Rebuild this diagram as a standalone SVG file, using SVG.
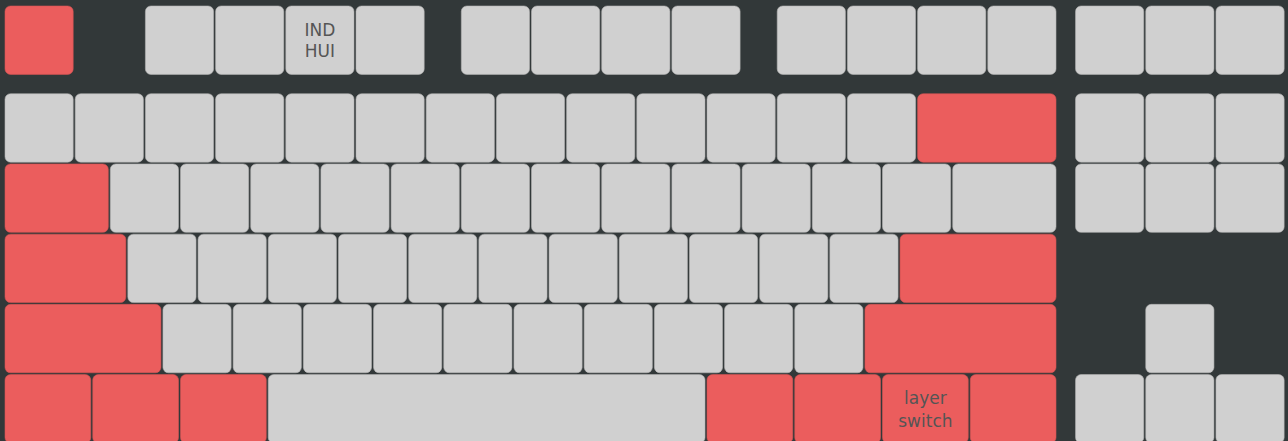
<svg xmlns="http://www.w3.org/2000/svg" width="1288" height="441" viewBox="0 0 1288 441">
<style>
.k{fill:#d0d0d0;stroke:#b4b4b4;stroke-width:0.6}
.r{fill:#eb5d5d;stroke:#d45454;stroke-width:0.6}
.t{font-family:"DejaVu Sans","Liberation Sans",sans-serif;font-size:17px;fill:#555555;text-anchor:middle}
</style>
<rect width="1288" height="441" fill="#323839"/>
<!-- Row 1 -->
<g id="key-esc"><rect class="r" x="5" y="6" width="68.2" height="68.4" rx="5.5"/></g>
<g id="key-f1"><rect class="k" x="145.4" y="6" width="68.2" height="68.4" rx="5.5"/></g>
<g id="key-f2"><rect class="k" x="215.6" y="6" width="68.2" height="68.4" rx="5.5"/></g>
<g id="key-f3"><rect class="k" x="285.8" y="6" width="68.2" height="68.4" rx="5.5"/><text class="t" x="319.9" y="36.3">IND</text><text class="t" x="319.9" y="57">HUI</text></g>
<g id="key-f4"><rect class="k" x="356" y="6" width="68.2" height="68.4" rx="5.5"/></g>
<g id="key-f5"><rect class="k" x="461.3" y="6" width="68.2" height="68.4" rx="5.5"/></g>
<g id="key-f6"><rect class="k" x="531.5" y="6" width="68.2" height="68.4" rx="5.5"/></g>
<g id="key-f7"><rect class="k" x="601.7" y="6" width="68.2" height="68.4" rx="5.5"/></g>
<g id="key-f8"><rect class="k" x="671.9" y="6" width="68.2" height="68.4" rx="5.5"/></g>
<g id="key-f9"><rect class="k" x="777.2" y="6" width="68.2" height="68.4" rx="5.5"/></g>
<g id="key-f10"><rect class="k" x="847.4" y="6" width="68.2" height="68.4" rx="5.5"/></g>
<g id="key-f11"><rect class="k" x="917.6" y="6" width="68.2" height="68.4" rx="5.5"/></g>
<g id="key-f12"><rect class="k" x="987.8" y="6" width="68.2" height="68.4" rx="5.5"/></g>
<g id="key-prtsc"><rect class="k" x="1075.55" y="6" width="68.2" height="68.4" rx="5.5"/></g>
<g id="key-scrlk"><rect class="k" x="1145.75" y="6" width="68.2" height="68.4" rx="5.5"/></g>
<g id="key-pause"><rect class="k" x="1215.95" y="6" width="68.2" height="68.4" rx="5.5"/></g>
<!-- Row 2 -->
<g id="key-grave"><rect class="k" x="5" y="93.75" width="68.2" height="68.4" rx="5.5"/></g>
<g id="key-1"><rect class="k" x="75.2" y="93.75" width="68.2" height="68.4" rx="5.5"/></g>
<g id="key-2"><rect class="k" x="145.4" y="93.75" width="68.2" height="68.4" rx="5.5"/></g>
<g id="key-3"><rect class="k" x="215.6" y="93.75" width="68.2" height="68.4" rx="5.5"/></g>
<g id="key-4"><rect class="k" x="285.8" y="93.75" width="68.2" height="68.4" rx="5.5"/></g>
<g id="key-5"><rect class="k" x="356" y="93.75" width="68.2" height="68.4" rx="5.5"/></g>
<g id="key-6"><rect class="k" x="426.2" y="93.75" width="68.2" height="68.4" rx="5.5"/></g>
<g id="key-7"><rect class="k" x="496.4" y="93.75" width="68.2" height="68.4" rx="5.5"/></g>
<g id="key-8"><rect class="k" x="566.6" y="93.75" width="68.2" height="68.4" rx="5.5"/></g>
<g id="key-9"><rect class="k" x="636.8" y="93.75" width="68.2" height="68.4" rx="5.5"/></g>
<g id="key-0"><rect class="k" x="707" y="93.75" width="68.2" height="68.4" rx="5.5"/></g>
<g id="key-minus"><rect class="k" x="777.2" y="93.75" width="68.2" height="68.4" rx="5.5"/></g>
<g id="key-equal"><rect class="k" x="847.4" y="93.75" width="68.2" height="68.4" rx="5.5"/></g>
<g id="key-backspace"><rect class="r" x="917.6" y="93.75" width="138.4" height="68.4" rx="5.5"/></g>
<g id="key-insert"><rect class="k" x="1075.55" y="93.75" width="68.2" height="68.4" rx="5.5"/></g>
<g id="key-home"><rect class="k" x="1145.75" y="93.75" width="68.2" height="68.4" rx="5.5"/></g>
<g id="key-pgup"><rect class="k" x="1215.95" y="93.75" width="68.2" height="68.4" rx="5.5"/></g>
<!-- Row 3 -->
<g id="key-tab"><rect class="r" x="5" y="163.95" width="103.3" height="68.4" rx="5.5"/></g>
<g id="key-q"><rect class="k" x="110.3" y="163.95" width="68.2" height="68.4" rx="5.5"/></g>
<g id="key-w"><rect class="k" x="180.5" y="163.95" width="68.2" height="68.4" rx="5.5"/></g>
<g id="key-e"><rect class="k" x="250.7" y="163.95" width="68.2" height="68.4" rx="5.5"/></g>
<g id="key-r"><rect class="k" x="320.9" y="163.95" width="68.2" height="68.4" rx="5.5"/></g>
<g id="key-t"><rect class="k" x="391.1" y="163.95" width="68.2" height="68.4" rx="5.5"/></g>
<g id="key-y"><rect class="k" x="461.3" y="163.95" width="68.2" height="68.4" rx="5.5"/></g>
<g id="key-u"><rect class="k" x="531.5" y="163.95" width="68.2" height="68.4" rx="5.5"/></g>
<g id="key-i"><rect class="k" x="601.7" y="163.95" width="68.2" height="68.4" rx="5.5"/></g>
<g id="key-o"><rect class="k" x="671.9" y="163.95" width="68.2" height="68.4" rx="5.5"/></g>
<g id="key-p"><rect class="k" x="742.1" y="163.95" width="68.2" height="68.4" rx="5.5"/></g>
<g id="key-lbracket"><rect class="k" x="812.3" y="163.95" width="68.2" height="68.4" rx="5.5"/></g>
<g id="key-rbracket"><rect class="k" x="882.5" y="163.95" width="68.2" height="68.4" rx="5.5"/></g>
<g id="key-backslash"><rect class="k" x="952.7" y="163.95" width="103.3" height="68.4" rx="5.5"/></g>
<g id="key-delete"><rect class="k" x="1075.55" y="163.95" width="68.2" height="68.4" rx="5.5"/></g>
<g id="key-end"><rect class="k" x="1145.75" y="163.95" width="68.2" height="68.4" rx="5.5"/></g>
<g id="key-pgdn"><rect class="k" x="1215.95" y="163.95" width="68.2" height="68.4" rx="5.5"/></g>
<!-- Row 4 -->
<g id="key-caps"><rect class="r" x="5" y="234.15" width="120.85" height="68.4" rx="5.5"/></g>
<g id="key-a"><rect class="k" x="127.85" y="234.15" width="68.2" height="68.4" rx="5.5"/></g>
<g id="key-s"><rect class="k" x="198.05" y="234.15" width="68.2" height="68.4" rx="5.5"/></g>
<g id="key-d"><rect class="k" x="268.25" y="234.15" width="68.2" height="68.4" rx="5.5"/></g>
<g id="key-f"><rect class="k" x="338.45" y="234.15" width="68.2" height="68.4" rx="5.5"/></g>
<g id="key-g"><rect class="k" x="408.65" y="234.15" width="68.2" height="68.4" rx="5.5"/></g>
<g id="key-h"><rect class="k" x="478.85" y="234.15" width="68.2" height="68.4" rx="5.5"/></g>
<g id="key-j"><rect class="k" x="549.05" y="234.15" width="68.2" height="68.4" rx="5.5"/></g>
<g id="key-k"><rect class="k" x="619.25" y="234.15" width="68.2" height="68.4" rx="5.5"/></g>
<g id="key-l"><rect class="k" x="689.45" y="234.15" width="68.2" height="68.4" rx="5.5"/></g>
<g id="key-semicolon"><rect class="k" x="759.65" y="234.15" width="68.2" height="68.4" rx="5.5"/></g>
<g id="key-quote"><rect class="k" x="829.85" y="234.15" width="68.2" height="68.4" rx="5.5"/></g>
<g id="key-enter"><rect class="r" x="900.05" y="234.15" width="155.95" height="68.4" rx="5.5"/></g>
<!-- Row 5 -->
<g id="key-lshift"><rect class="r" x="5" y="304.35" width="155.95" height="68.4" rx="5.5"/></g>
<g id="key-z"><rect class="k" x="162.95" y="304.35" width="68.2" height="68.4" rx="5.5"/></g>
<g id="key-x"><rect class="k" x="233.15" y="304.35" width="68.2" height="68.4" rx="5.5"/></g>
<g id="key-c"><rect class="k" x="303.35" y="304.35" width="68.2" height="68.4" rx="5.5"/></g>
<g id="key-v"><rect class="k" x="373.55" y="304.35" width="68.2" height="68.4" rx="5.5"/></g>
<g id="key-b"><rect class="k" x="443.75" y="304.35" width="68.2" height="68.4" rx="5.5"/></g>
<g id="key-n"><rect class="k" x="513.95" y="304.35" width="68.2" height="68.4" rx="5.5"/></g>
<g id="key-m"><rect class="k" x="584.15" y="304.35" width="68.2" height="68.4" rx="5.5"/></g>
<g id="key-comma"><rect class="k" x="654.35" y="304.35" width="68.2" height="68.4" rx="5.5"/></g>
<g id="key-period"><rect class="k" x="724.55" y="304.35" width="68.2" height="68.4" rx="5.5"/></g>
<g id="key-slash"><rect class="k" x="794.75" y="304.35" width="68.2" height="68.4" rx="5.5"/></g>
<g id="key-rshift"><rect class="r" x="864.95" y="304.35" width="191.05" height="68.4" rx="5.5"/></g>
<g id="key-up"><rect class="k" x="1145.75" y="304.35" width="68.2" height="68.4" rx="5.5"/></g>
<!-- Row 6 -->
<g id="key-lctrl"><rect class="r" x="5" y="374.55" width="85.75" height="68.4" rx="5.5"/></g>
<g id="key-lwin"><rect class="r" x="92.75" y="374.55" width="85.75" height="68.4" rx="5.5"/></g>
<g id="key-lalt"><rect class="r" x="180.5" y="374.55" width="85.75" height="68.4" rx="5.5"/></g>
<g id="key-space"><rect class="k" x="268.25" y="374.55" width="436.75" height="68.4" rx="5.5"/></g>
<g id="key-ralt"><rect class="r" x="707" y="374.55" width="85.75" height="68.4" rx="5.5"/></g>
<g id="key-rwin"><rect class="r" x="794.75" y="374.55" width="85.75" height="68.4" rx="5.5"/></g>
<g id="key-layer"><rect class="r" x="882.5" y="374.55" width="85.75" height="68.4" rx="5.5"/><text class="t" x="925.4" y="403.5">layer</text><text class="t" x="925.4" y="426.5">switch</text></g>
<g id="key-rctrl"><rect class="r" x="970.25" y="374.55" width="85.75" height="68.4" rx="5.5"/></g>
<g id="key-left"><rect class="k" x="1075.55" y="374.55" width="68.2" height="68.4" rx="5.5"/></g>
<g id="key-down"><rect class="k" x="1145.75" y="374.55" width="68.2" height="68.4" rx="5.5"/></g>
<g id="key-right"><rect class="k" x="1215.95" y="374.55" width="68.2" height="68.4" rx="5.5"/></g>
<g id="connectors"/>
</svg>
